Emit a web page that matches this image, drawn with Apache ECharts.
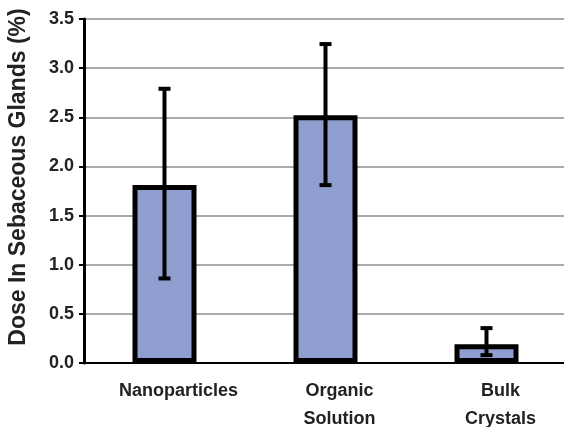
<!DOCTYPE html>
<html><head><meta charset="utf-8">
<script src="https://cdn.jsdelivr.net/npm/echarts@6/dist/echarts.min.js"></script>
<style>html,body{margin:0;padding:0;background:#fff}#c{width:564px;height:427px}</style>
</head><body><div id="c"></div>
<script>
const categories = ['Nanoparticles', 'Organic\nSolution', 'Bulk\nCrystals'];
const doseValues = [1.81, 2.52, 0.19];
const errLow = [0.86, 1.81, 0.08];
const errHigh = [2.79, 3.245, 0.355];
const yTicks = [0, 0.5, 1.0, 1.5, 2.0, 2.5, 3.0, 3.5];

const chart = echarts.init(document.getElementById('c'));
const font = '"Liberation Sans", Arial, sans-serif';
chart.setOption({
  animation: false,
  grid: { left: 84, top: 19, bottom: 64, width: 483, outerBoundsMode: 'none', containLabel: false },
  xAxis: {
    type: 'category', data: categories,
    axisLine: { lineStyle: { color: '#000', width: 2 } },
    axisTick: { show: false },
    axisLabel: { color: '#222', fontFamily: font, fontWeight: 'bold', fontSize: 18, lineHeight: 28, margin: 14, padding: [0, 0, 0, 28] }
  },
  yAxis: {
    type: 'value', min: 0, max: 3.5, interval: 0.5,
    name: 'Dose In Sebaceous Glands (%)', nameLocation: 'middle', nameGap: 54,
    nameTextStyle: { color: '#222', fontFamily: font, fontWeight: 'bold', fontSize: 23, padding: [0, 0, 0, 28] },
    axisLine: { show: true, lineStyle: { color: '#000', width: 3 } },
    axisTick: { show: true, length: 5, lineStyle: { color: '#000', width: 2 } },
    axisLabel: { color: '#222', fontFamily: font, fontWeight: 'bold', fontSize: 18, margin: 10,
      formatter: v => v.toFixed(1) },
    splitLine: { lineStyle: { color: '#aaaaaa', width: 2 } }
  },
  series: [
    { type: 'bar', data: doseValues, barWidth: 64,
      itemStyle: { color: '#8f9ecf', borderColor: '#000', borderWidth: 5 } },
    { type: 'custom', z: 10,
      data: categories.map((c, i) => [i, errLow[i], errHigh[i]]),
      renderItem: function (params, api) {
        const x = api.coord([api.value(0), 0])[0];
        const lo = api.coord([api.value(0), api.value(1)])[1];
        const hi = api.coord([api.value(0), api.value(2)])[1];
        const hw = 6;
        const st = { stroke: '#000', lineWidth: 4 };
        return { type: 'group', children: [
          { type: 'line', shape: { x1: x, y1: hi, x2: x, y2: lo }, style: st },
          { type: 'line', shape: { x1: x - hw, y1: hi, x2: x + hw, y2: hi }, style: st },
          { type: 'line', shape: { x1: x - hw, y1: lo, x2: x + hw, y2: lo }, style: st }
        ] };
      }
    }
  ]
});
</script></body></html>
